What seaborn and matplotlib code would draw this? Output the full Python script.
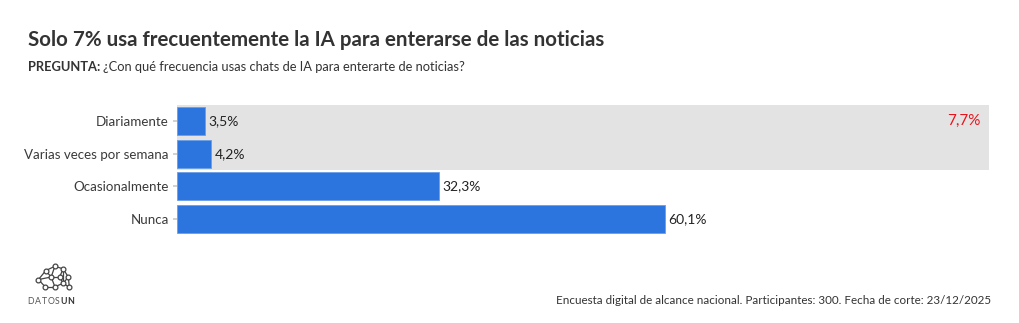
import matplotlib
matplotlib.use("Agg")
import matplotlib.pyplot as plt
import seaborn as sns
import pandas as pd

categories = ["Diariamente", "Varias veces por semana", "Ocasionalmente", "Nunca"]
values = [3.5, 4.2, 32.3, 60.1]
labels = ["3,5%", "4,2%", "32,3%", "60,1%"]
highlight_label = "7,7%"

sns.set_theme(style="white")
plt.rcParams['font.family'] = ['Lato', 'DejaVu Sans']

df = pd.DataFrame({"cat": categories, "val": values})

fig = plt.figure(figsize=(10.2, 3.23), dpi=100)
ax = fig.add_axes([177/1020, 1-235/323, 812/1020, 130/323])
ax.axhspan(-0.5, 1.5, color="#e3e3e3", zorder=0, lw=0)
sns.barplot(data=df, x="val", y="cat", ax=ax, color="#2c74de", width=0.86,
            saturation=1, zorder=2, edgecolor="#6a9ee8", linewidth=0.6)
ax.set_xlim(0, 100)
ax.set_ylim(3.5, -0.5)
for i, (v, lab) in enumerate(zip(values, labels)):
    ax.text(v + 0.4, i, lab, va="center", ha="left", fontsize=10, color="#222222")
ax.text(99, 0, highlight_label, va="center", ha="right", fontsize=11, color="#e8141c")
ax.set_xlabel("")
ax.set_ylabel("")
ax.set_xticks([])
ax.tick_params(axis="y", length=3, color="#cccccc", labelsize=9.6, labelcolor="#3a3a3a", pad=3)
ax.yaxis.set_ticks_position("left")
for s in ax.spines.values():
    s.set_visible(False)

fig.text(28/1020, 1-40/323, "Solo 7% usa frecuentemente la IA para enterarse de las noticias",
         fontsize=14.8, fontweight="bold", color="#333333", va="center", ha="left")
t = fig.text(28/1020, 1-67/323, "PREGUNTA:", fontsize=9.3, fontweight="bold", color="#333333",
             va="center", ha="left")
fig.canvas.draw()
bb = t.get_window_extent()
fig.text((bb.x1 + 3)/1020, 1-67/323, "¿Con qué frecuencia usas chats de IA para enterarte de noticias?",
         fontsize=9.3, color="#333333", va="center", ha="left")
fig.text(991/1020, 1-301/323,
         "Encuesta digital de alcance nacional. Participantes: 300. Fecha de corte: 23/12/2025",
         fontsize=8.4, color="#333333", va="center", ha="right")

# logo
lax = fig.add_axes([33/1020, 1-291/323, 40/1020, 28/323])
nodes = [(0.1, 0.4), (0.3, 0.75), (0.55, 0.92), (0.78, 0.82), (0.92, 0.5), (0.78, 0.25),
         (0.55, 0.12), (0.28, 0.12), (0.45, 0.5), (0.68, 0.5), (0.95, 0.1)]
edges = [(0, 1), (1, 2), (2, 3), (3, 4), (4, 5), (5, 6), (6, 7), (7, 0), (1, 8), (8, 9),
         (9, 3), (8, 6), (9, 5), (0, 8), (2, 8), (3, 5), (5, 10), (4, 10)]
for a, b in edges:
    lax.plot([nodes[a][0], nodes[b][0]], [nodes[a][1], nodes[b][1]], color="#444444", lw=0.9)
lax.scatter([n[0] for n in nodes], [n[1] for n in nodes], s=12, facecolor="white",
            edgecolor="#444444", linewidth=0.9, zorder=3)
lax.set_xlim(-0.05, 1.05)
lax.set_ylim(-0.05, 1.05)
lax.axis("off")
logo_letters = "DATOSUN"
for k, ch in enumerate(logo_letters):
    fig.text((31 + k * 6.6)/1020, 1-301/323, ch, fontsize=6.3,
             fontweight="bold" if k >= 5 else "normal",
             color="#333333" if k >= 5 else "#555555", va="center", ha="center")

fig.savefig("out.png", dpi=100, facecolor="white")
